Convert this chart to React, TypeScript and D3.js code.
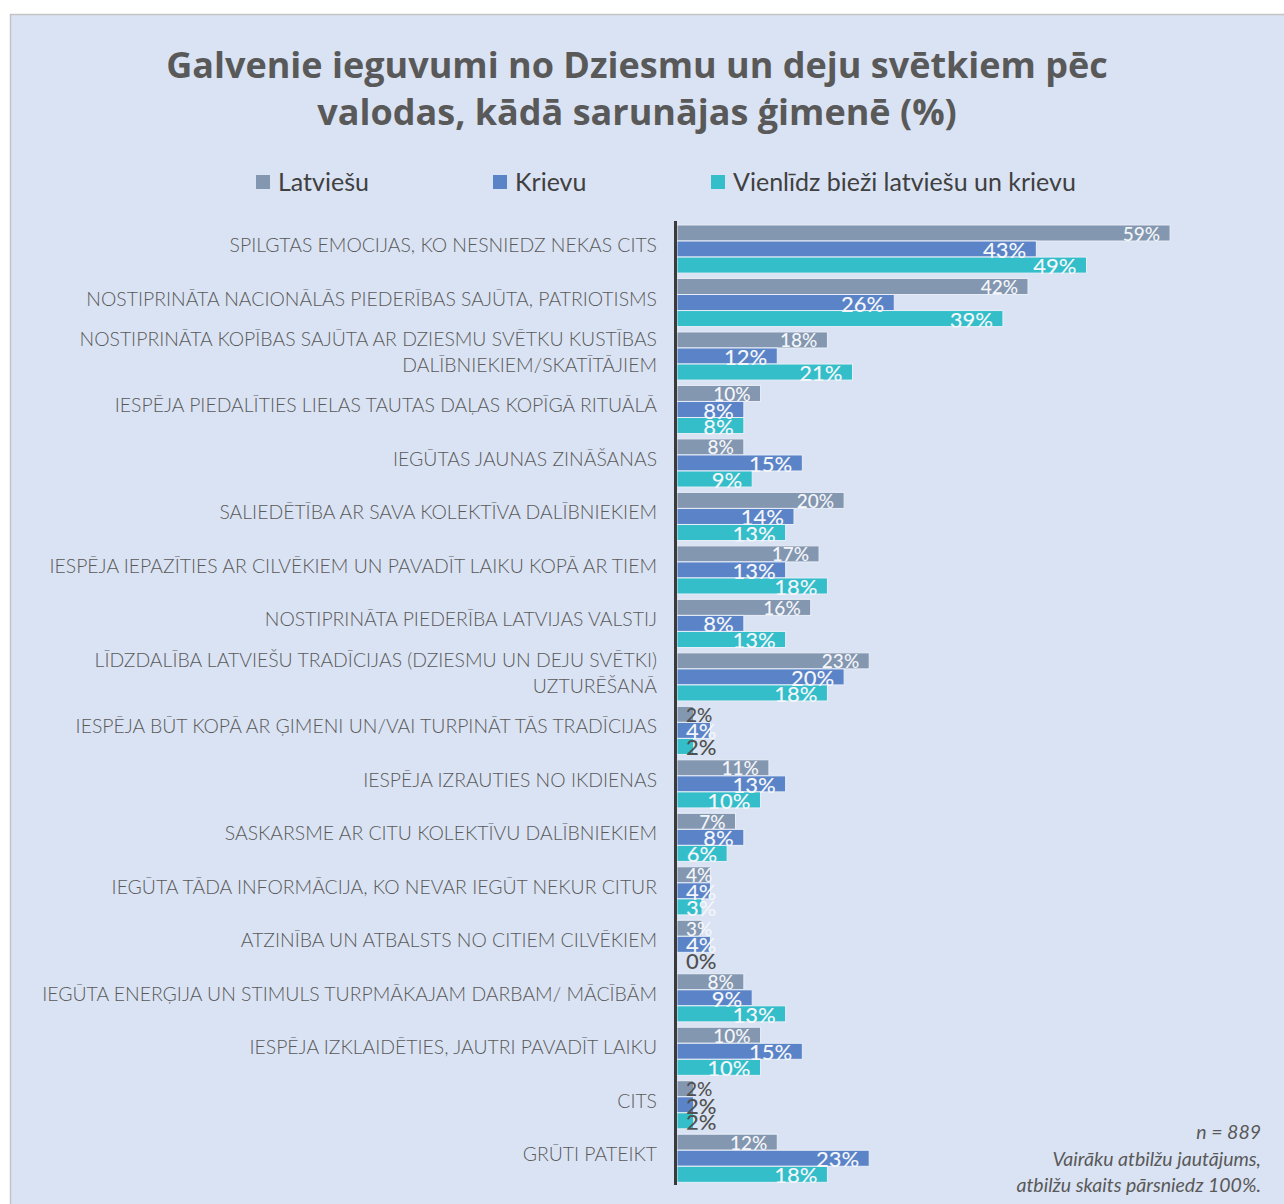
import React, { useEffect, useRef } from "react";
import * as d3 from "d3";

const categories: string[][] = [
  ["SPILGTAS EMOCIJAS, KO NESNIEDZ NEKAS CITS"],
  ["NOSTIPRINĀTA NACIONĀLĀS PIEDERĪBAS SAJŪTA, PATRIOTISMS"],
  ["NOSTIPRINĀTA KOPĪBAS SAJŪTA AR DZIESMU SVĒTKU KUSTĪBAS", "DALĪBNIEKIEM/SKATĪTĀJIEM"],
  ["IESPĒJA PIEDALĪTIES LIELAS TAUTAS DAĻAS KOPĪGĀ RITUĀLĀ"],
  ["IEGŪTAS JAUNAS ZINĀŠANAS"],
  ["SALIEDĒTĪBA AR SAVA KOLEKTĪVA DALĪBNIEKIEM"],
  ["IESPĒJA IEPAZĪTIES AR CILVĒKIEM UN PAVADĪT LAIKU KOPĀ AR TIEM"],
  ["NOSTIPRINĀTA PIEDERĪBA LATVIJAS VALSTIJ"],
  ["LĪDZDALĪBA LATVIEŠU TRADĪCIJAS (DZIESMU UN DEJU SVĒTKI)", "UZTURĒŠANĀ"],
  ["IESPĒJA BŪT KOPĀ AR ĢIMENI UN/VAI TURPINĀT TĀS TRADĪCIJAS"],
  ["IESPĒJA IZRAUTIES NO IKDIENAS"],
  ["SASKARSME AR CITU KOLEKTĪVU DALĪBNIEKIEM"],
  ["IEGŪTA TĀDA INFORMĀCIJA, KO NEVAR IEGŪT NEKUR CITUR"],
  ["ATZINĪBA UN ATBALSTS NO CITIEM CILVĒKIEM"],
  ["IEGŪTA ENERĢIJA UN STIMULS TURPMĀKAJAM DARBAM/ MĀCĪBĀM"],
  ["IESPĒJA IZKLAIDĒTIES, JAUTRI PAVADĪT LAIKU"],
  ["CITS"],
  ["GRŪTI PATEIKT"],
];

const seriesNames = ["Latviešu", "Krievu", "Vienlīdz bieži latviešu un krievu"];
const latviesu = [59, 42, 18, 10, 8, 20, 17, 16, 23, 2, 11, 7, 4, 3, 8, 10, 2, 12];
const krievu = [43, 26, 12, 8, 15, 14, 13, 8, 20, 4, 13, 8, 4, 4, 9, 15, 2, 23];
const vienlidz = [49, 39, 21, 8, 9, 13, 18, 13, 18, 2, 10, 6, 3, 0, 13, 10, 2, 18];
const seriesColors = ["#8497B0", "#5B84C8", "#33BECA"];

const titleLines = [
  "Galvenie ieguvumi no Dziesmu un deju svētkiem pēc",
  "valodas, kādā sarunājas ģimenē (%)",
];
const noteLines = [
  "n = 889",
  "Vairāku atbilžu jautājums,",
  "atbilžu skaits pārsniedz 100%.",
];

export default function App() {
  const ref = useRef<SVGSVGElement | null>(null);

  useEffect(() => {
    const svg = d3.select(ref.current);
    svg.selectAll("*").remove();
    const W = 1284, H = 1204;

    svg
      .append("rect")
      .attr("x", 10.5)
      .attr("y", 14.5)
      .attr("width", W)
      .attr("height", H)
      .attr("fill", "#DAE3F3")
      .attr("stroke", "#C4C4C4")
      .attr("stroke-width", 1.5);

    // title
    svg
      .append("g")
      .selectAll("text")
      .data(titleLines)
      .join("text")
      .attr("x", 637)
      .attr("y", (_d, i) => 78 + i * 47)
      .attr("text-anchor", "middle")
      .attr("font-family", "'Open Sans', sans-serif")
      .attr("font-weight", 700)
      .attr("font-size", 36)
      .attr("fill", "#595959")
      .text((d) => d);

    // legend
    const legendX = [256, 493, 711];
    const lg = svg.append("g");
    seriesNames.forEach((name, i) => {
      lg.append("rect")
        .attr("x", legendX[i])
        .attr("y", 175)
        .attr("width", 14)
        .attr("height", 14)
        .attr("fill", seriesColors[i]);
      lg.append("text")
        .attr("x", legendX[i] + 22)
        .attr("y", 191)
        .attr("font-family", "Lato, sans-serif")
        .attr("font-size", 25)
        .attr("fill", "#404040")
        .text(name);
    });

    const x0 = 677;
    const x = d3.scaleLinear().domain([0, 70]).range([x0, x0 + 585]);
    const y = d3
      .scaleBand<number>()
      .domain(d3.range(categories.length))
      .range([222.3, 1185])
      .paddingInner(0.1)
      .paddingOuter(0.05);
    const sub = d3.scaleBand<number>().domain([0, 1, 2]).range([0, y.bandwidth()]);

    const series = [latviesu, krievu, vienlidz];

    const defs = svg.append("defs");
    categories.forEach((_c, i) => {
      defs
        .append("clipPath")
        .attr("id", "clipg" + i)
        .append("rect")
        .attr("x", x0)
        .attr("y", (y(i) as number) - 3)
        .attr("width", 700)
        .attr("height", y.bandwidth() + 4);
    });

    // category labels
    const cl = svg.append("g");
    categories.forEach((lines, i) => {
      const cy = (y(i) as number) + y.bandwidth() / 2;
      lines.forEach((ln, j) => {
        cl.append("text")
          .attr("x", 657)
          .attr("y", cy + 3 + (j - (lines.length - 1) / 2) * 26)
          .attr("text-anchor", "end")
          .attr("font-family", "Lato, sans-serif")
          .attr("font-weight", 300)
          .attr("font-size", 19.4)
          .attr("fill", "#595959")
          .text(ln);
      });
    });

    // bars
    const bg = svg.append("g");
    categories.forEach((_c, i) => {
      series.forEach((vals, s) => {
        const v = vals[i];
        const by = (y(i) as number) + (sub(s) as number);
        bg.append("rect")
          .attr("x", x0)
          .attr("y", by)
          .attr("width", x(v) - x0)
          .attr("height", sub.bandwidth())
          .attr("fill", seriesColors[s])
          .attr("stroke", v > 0 ? "#E8EEF8" : "none")
          .attr("stroke-width", 1);
      });
    });

    // axis line
    svg
      .append("line")
      .attr("x1", x0 - 1.5)
      .attr("x2", x0 - 1.5)
      .attr("y1", 221)
      .attr("y2", 1185)
      .attr("stroke", "#3A3A3A")
      .attr("stroke-width", 3);

    // value labels
    const lbl = svg.append("g");
    categories.forEach((_c, i) => {
      const g = lbl.append("g").attr("clip-path", `url(#clipg${i})`);
      series.forEach((vals, s) => {
        const v = vals[i];
        const by = (y(i) as number) + (sub(s) as number);
        const bottom = by + sub.bandwidth();
        const fs = s === 0 ? 19 : 22;
        const t = g
          .append("text")
          .attr("y", s === 0 ? bottom - 0.5 : bottom + 1)
          .attr("font-family", "Lato, sans-serif")
          .attr("font-weight", 500)
          .attr("font-size", fs)
          .attr("fill", v <= 2 ? "#505050" : "#F4F6FA")
          .text(v + "%");
        const node = t.node() as SVGTextElement;
        const w = node.getComputedTextLength();
        const end = x(v) - 10;
        if (end - w < x0 + 9) {
          t.attr("x", x0 + 9).attr("text-anchor", "start");
        } else {
          t.attr("x", end).attr("text-anchor", "end");
        }
      });
    });

    // note
    svg
      .append("g")
      .selectAll("text")
      .data(noteLines)
      .join("text")
      .attr("x", 1261)
      .attr("y", (_d, i) => 1139 + i * 26.5)
      .attr("text-anchor", "end")
      .attr("font-family", "Lato, sans-serif")
      .attr("font-style", "italic")
      .attr("font-weight", 400)
      .attr("font-size", 19.5)
      .attr("fill", "#595959")
      .text((d) => d);
  }, []);

  return (
    <svg
      ref={ref}
      width={1284}
      height={1204}
      style={{ position: "absolute", left: 0, top: 0, display: "block" }}
    />
  );
}
